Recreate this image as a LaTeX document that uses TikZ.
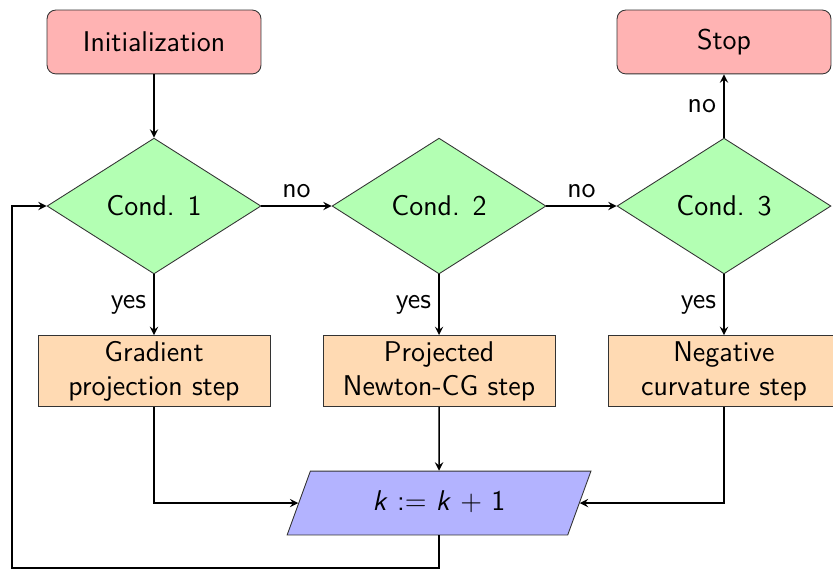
\documentclass[tikz,border=0pt]{standalone}
\usepackage{amsmath}
\usetikzlibrary{shapes.geometric, arrows}
\renewcommand{\familydefault}{\sfdefault}
\definecolor{myred}{RGB}{255,179,179}
\definecolor{mygreen}{RGB}{179,255,179}
\definecolor{myorange}{RGB}{255,218,179}
\definecolor{myblue}{RGB}{179,179,255}
\tikzset{
	every node/.style = {font=\fontsize{13.1}{15.6}\selectfont},
	startstop/.style = {rectangle, rounded corners, draw=black!80, fill=myred, minimum width=3.45cm, minimum height=1.03cm},
	decision/.style = {diamond, aspect=1.6, draw=black!80, fill=mygreen, minimum width=3.45cm, minimum height=2.19cm, inner sep=0pt},
	process/.style = {rectangle, draw=black!80, fill=myorange, minimum width=3.74cm, minimum height=1.145cm, align=center, inner sep=1pt},
	update/.style = {trapezium, trapezium left angle=70, trapezium right angle=110, trapezium stretches body, draw=black!80, fill=myblue, minimum width=4.9cm, text height=0.33cm, text depth=0.1cm, inner ysep=0.3cm},
	arrow/.style = {->, >=stealth, line width=0.7pt}
}

\begin{document}
\begin{tikzpicture}

\useasboundingbox (0,0) rectangle (13.435,-9.21);

%---------NODES-----------%
\node [startstop] (init) at (2.484,-0.677) {Initialization};
\node [startstop] (stop) at (11.677,-0.677) {Stop};

\foreach \c/\x in {1/2.484, 2/7.081, 3/11.677}{
	\node [decision] (cond\c) at (\x,-3.323) {Cond.\hspace{0.45em}\c};
};

\node [process] (grad) at (2.484,-5.984) {Gradient\\projection step};
\node [process] (newton) at (7.081,-5.984) {Projected\\Newton-CG step};
\node [process] (negcurv) at (11.677,-5.984) {Negative\\curvature step};

\node [update] (incr) at (7.081,-8.113) {\textit{k} := \textit{k} + 1};

\coordinate (loop) at (0.19,-9.16);

%---------LINKS-----------%
\draw [arrow] (init) -- (cond1);
\draw [arrow] (cond1) -- node[above] {no} (cond2);
\draw [arrow] (cond2) -- node[above] {no} (cond3);
\draw [arrow] (cond3) -- node[left] {no} (stop);

\draw [arrow] (cond1) -- node[left] {yes} (grad);
\draw [arrow] (cond2) -- node[left] {yes} (newton);
\draw [arrow] (cond3) -- node[left] {yes} (negcurv);

\draw [arrow] (grad) |- (incr);
\draw [arrow] (newton) -- (incr);
\draw [arrow] (negcurv) |- (incr);

%---------LOOP BACK-------%
\draw [arrow] (incr.south) |- (loop) |- (cond1.west);

\end{tikzpicture}
\end{document}
